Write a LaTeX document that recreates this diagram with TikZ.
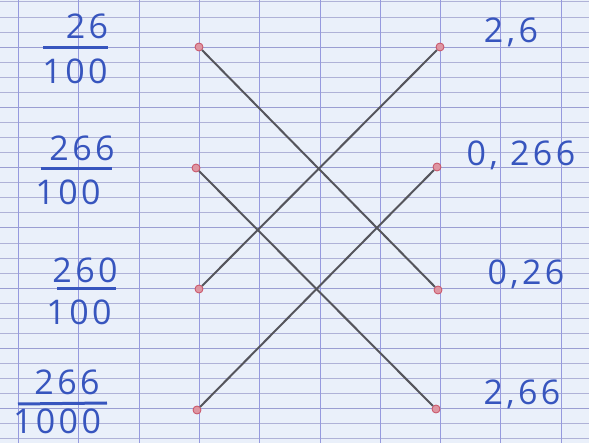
\documentclass[tikz,border=0pt]{standalone}
\usepackage{fontspec}
\setmainfont{Open Sans}
\newfontfamily\hand[LetterSpace=10]{Open Sans}

\newcommand*{\xmin}{0}
\newcommand*{\xmax}{589}
\newcommand*{\ymin}{0}
\newcommand*{\ymax}{443}

\definecolor{paper}{RGB}{234,240,250}
\definecolor{rule}{RGB}{175,178,215}
\definecolor{darkrule}{RGB}{155,158,210}
\definecolor{margin}{RGB}{150,154,222}
\definecolor{ink}{RGB}{55,85,190}
\definecolor{pencil}{RGB}{85,85,92}
\definecolor{redpen}{RGB}{200,80,100}

\begin{document}
\begin{tikzpicture}
[
	dot/.style={circle,draw=redpen,fill=redpen!60,line width=0.8pt,inner sep=0pt,minimum size=8pt},
	tie/.style={pencil,line width=2pt},
	num/.style={ink,font=\hand\fontsize{34}{36}\selectfont,inner sep=0pt},
	bar/.style={ink,line width=3pt},
	x=1pt,
	y=-1pt
]

	% paper
	\useasboundingbox (\xmin,\ymin) rectangle (\xmax,\ymax);
	\fill[paper] (\xmin,\ymin) rectangle (\xmax,\ymax);

	% grid
	\foreach \i in {0,...,29} {
		\draw[rule,line width=0.7pt] (\xmin,1.8+15.07*\i) -- (\xmax,1.8+15.07*\i);
	}
	\foreach \i in {3,7,...,27} {
		\draw[darkrule,line width=0.9pt] (\xmin,1.8+15.07*\i) -- (\xmax,1.8+15.07*\i);
	}
	\foreach \i in {0,...,9} {
		\draw[margin,line width=0.9pt] (18.5+60.3*\i,\ymin) -- (18.5+60.3*\i,\ymax);
	}

	% left dots
	\node[dot] at (199,47) (l1) {};
	\node[dot] at (196,168) (l2) {};
	\node[dot] at (199,289) (l3) {};
	\node[dot] at (197,410) (l4) {};

	% right dots
	\node[dot] at (440,47) (r1) {};
	\node[dot] at (437,167) (r2) {};
	\node[dot] at (438,290) (r3) {};
	\node[dot] at (436,409) (r4) {};

	% ties
	\draw[tie] (l1) -- (r3);
	\draw[tie] (l2) -- (r4);
	\draw[tie] (l3) -- (r1);
	\draw[tie] (l4) -- (r2);

	% fractions
	\node[num] at (87,26) (n1) {26};
	\draw[bar] (43,48) -- (108,48);
	\node[num] at (75,71) (d1) {100};

	\node[num] at (82,148) (n2) {266};
	\draw[bar] (41,169) -- (112,169);
	\node[num] at (68,192) (d2) {100};

	\node[num] at (85,270) (n3) {260};
	\draw[bar] (57,289) -- (116,289);
	\node[num] at (79,312) (d3) {100};

	\node[num] at (67,382) (n4) {266};
	\draw[bar] (18,404) -- (107,403);
	\node[num] at (57,421) (d4) {1000};

	% decimals
	\node[num] at (511,32) (v1) {2,6};
	\node[num] at (521,155) (v2) {0, 266};
	\node[num] at (526,274) (v3) {0,26};
	\node[num] at (522,394) (v4) {2,66};

\end{tikzpicture}
\end{document}
